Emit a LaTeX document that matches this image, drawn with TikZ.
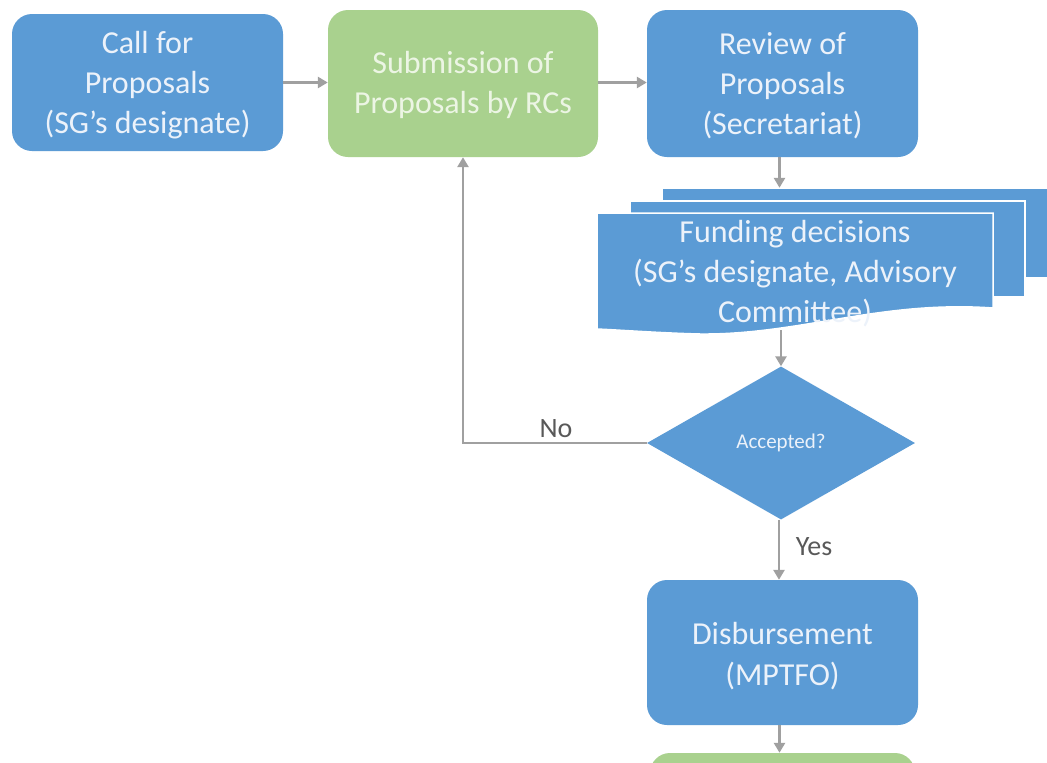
\documentclass[tikz,border=0pt]{standalone}
\usepackage{fontspec}
\setmainfont{Carlito}
\usetikzlibrary{shapes.geometric,arrows.meta}
\definecolor{boxblue}{RGB}{91,155,213}
\definecolor{boxgreen}{RGB}{169,209,142}
\definecolor{bluetext}{RGB}{236,242,250}
\definecolor{greentext}{RGB}{236,245,228}
\definecolor{arrowgray}{RGB}{160,160,160}
\definecolor{labelgray}{RGB}{89,89,89}
\tikzset{
  bluebox/.style={fill=boxblue, draw=none, rounded corners=20pt, inner sep=0pt,
    minimum width=271pt, minimum height=145pt},
  greenbox/.style={bluebox, fill=boxgreen},
  boxtext/.style={text=bluetext, align=center, inner sep=0pt, font=\fontsize{32}{40}\selectfont},
  greentxt/.style={boxtext, text=greentext},
  flow/.style={draw=arrowgray, line width=2.6pt, -{Triangle[length=10pt,width=11pt]}},
  lbl/.style={text=labelgray, font=\fontsize{28}{32}\selectfont, inner sep=0pt},
  layer/.style={fill=boxblue, draw=white, line width=1.5pt}
}
\begin{document}
\begin{tikzpicture}[x=1pt,y=-1pt]
\clip (0,0) rectangle (1047,763);
\fill[white] (0,0) rectangle (1047,763);

% top row
\node[bluebox, minimum height=137pt,
  label={[boxtext, yshift=-3pt]center:{Call for\\Proposals\\(SG’s designate)}}] (call) at (147.5,82.5) {};
\node[greenbox, minimum width=270pt, minimum height=147pt,
  label={[greentxt, yshift=-1pt]center:{Submission of\\Proposals by RCs}}] (submit) at (463,83.5) {};
\node[bluebox, minimum height=147pt,
  label={[boxtext, yshift=-2pt]center:{Review of\\Proposals\\(Secretariat)}}] (review) at (782.5,83.5) {};

% multidocument
\fill[layer] (662,188) rectangle (1060,278);
\fill[layer] (630,201) rectangle (1025,297);
\fill[layer] (597,213) -- (993,213) -- (993,308)
  .. controls (880,300) and (800,335) .. (700,334)
  .. controls (660,333) and (620,330) .. (597,329) -- cycle;
\node[minimum width=396pt, minimum height=142pt, inner sep=0pt] (funding) at (795,259) {};
\node[boxtext] (fundtext) at (795,274)
  {Funding decisions\\(SG’s designate, Advisory\\Committee)};

% decision
\node[shape=diamond, fill=boxblue, draw=none, minimum width=268pt, minimum height=153pt,
  aspect=1.75, inner sep=0pt, text=bluetext, font=\fontsize{21}{24}\selectfont] (decision) at (781,443) {Accepted?};

% disbursement
\node[bluebox, minimum height=145pt,
  label={[boxtext, yshift=-4pt]center:{Disbursement\\[1pt](MPTFO)}}] (disburse) at (782.5,652.5) {};
\node[greenbox, minimum width=265pt, minimum height=60pt] (next) at (782.5,783) {};

% connectors
\draw[flow] (call.east) -- (submit.west |- call.east);
\draw[flow] (submit.east |- call.east) -- (review.west |- call.east);
\draw[flow] ([xshift=-3pt]review.south) -- ([xshift=-3pt]review.south |- funding.north);
\draw[flow] (decision.north |- funding.south) -- (decision.north);
\coordinate (corner) at (decision.west -| submit.south);
\draw[flow] (decision.west) -- (corner) -- (submit.south);
\node[lbl] (nolbl) at (556,429) {No};
\draw[flow] ([xshift=-2pt]decision.south) -- ([xshift=-2pt]decision.south |- disburse.north);
\node[lbl] (yeslbl) at (814,547) {Yes};
\draw[flow] ([xshift=-3pt]disburse.south) -- ([xshift=-3pt]disburse.south |- next.north);
\end{tikzpicture}
\end{document}
